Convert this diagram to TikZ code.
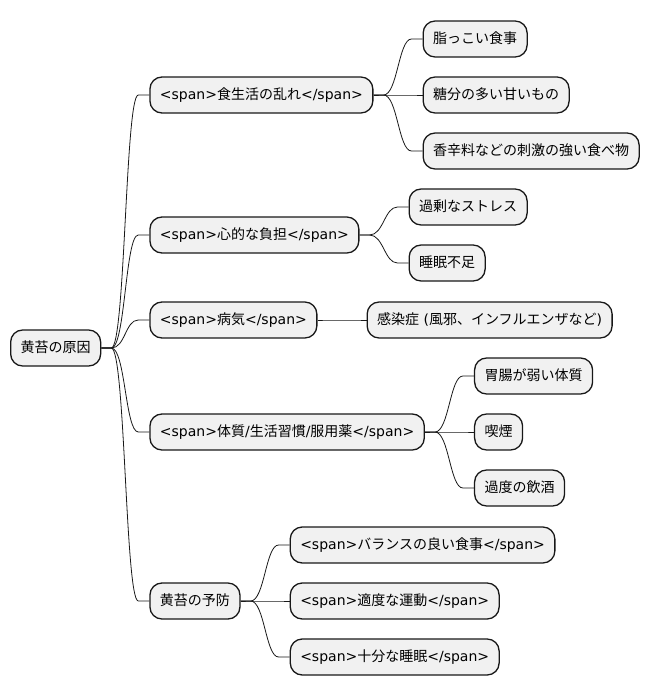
\documentclass[tikz,border=0pt]{standalone}
\usepackage{fontspec}
\setmainfont{DejaVu Sans}
\newfontfamily\cjk{Noto Sans CJK JP}
\usepackage{tikz}
\usetikzlibrary{positioning,calc}
\definecolor{boxfill}{HTML}{F1F1F1}
\definecolor{boxline}{HTML}{181818}
\newcommand{\jp}[1]{{\cjk #1}}
\tikzset{
  topic/.style={draw=boxline,fill=boxfill,line width=1.3pt,rounded corners=12pt,
                minimum height=36pt,inner xsep=10pt,inner ysep=0pt,
                text height=11pt,text depth=3pt,font=\fontsize{14}{16}\selectfont},
  link/.style={boxline,line width=0.8pt,
               to path={-- ++(10pt,0)
                 .. controls ($(\tikztostart)+(24pt,0)$) and ($(\tikztotarget)+(-24pt,0)$)
                 .. ($(\tikztotarget)+(-11pt,0)$) -- (\tikztotarget)}},
}

\begin{document}
\begin{tikzpicture}[node distance=49pt]
  \useasboundingbox (0,0) rectangle (649pt,-696pt);
  %% Root
  \node[topic,anchor=west] (root) at (10pt,-348pt) {\jp{黄苔の原因}};
  %% Level 1
  \node[topic,right=48pt of root,yshift=253pt]  (diet) {<span>\jp{食生活の乱れ}</span>};
  \node[topic,right=48pt of root,yshift=113pt]  (mind) {<span>\jp{心的な負担}</span>};
  \node[topic,right=48pt of root,yshift=28pt]   (ill)  {<span>\jp{病気}</span>};
  \node[topic,right=48pt of root,yshift=-84pt]  (body) {<span>\jp{体質}/\jp{生活習慣}/\jp{服用薬}</span>};
  \node[topic,right=48pt of root,yshift=-253pt] (prev) {\jp{黄苔の予防}};
  %% Level 2
  \node[topic,right=of diet,yshift=56pt]  (fatty)    {\jp{脂っこい食事}};
  \node[topic,right=of diet]              (sugar)    {\jp{糖分の多い甘いもの}};
  \node[topic,right=of diet,yshift=-56pt] (spicy)    {\jp{香辛料などの刺激の強い食べ物}};
  \node[topic,right=of mind,yshift=28pt]  (stress)   {\jp{過剰なストレス}};
  \node[topic,right=of mind,yshift=-28pt] (sleep)    {\jp{睡眠不足}};
  \node[topic,right=of ill]               (infect)   {\jp{感染症} (\jp{風邪、インフルエンザなど})};
  \node[topic,right=of body,yshift=56pt]  (stomach)  {\jp{胃腸が弱い体質}};
  \node[topic,right=of body]              (smoke)    {\jp{喫煙}};
  \node[topic,right=of body,yshift=-56pt] (drink)    {\jp{過度の飲酒}};
  \node[topic,right=of prev,yshift=56pt]  (balance)  {<span>\jp{バランスの良い食事}</span>};
  \node[topic,right=of prev]              (exercise) {<span>\jp{適度な運動}</span>};
  \node[topic,right=of prev,yshift=-56pt] (rest)     {<span>\jp{十分な睡眠}</span>};

  %% Edges
  \foreach \t in {diet,mind,ill,body,prev}
    \draw[link] (root.east) to (\t.west);
  \foreach \t in {fatty,sugar,spicy}
    \draw[link] (diet.east) to (\t.west);
  \foreach \t in {stress,sleep}
    \draw[link] (mind.east) to (\t.west);
  \draw[link] (ill.east) to (infect.west);
  \foreach \t in {stomach,smoke,drink}
    \draw[link] (body.east) to (\t.west);
  \foreach \t in {balance,exercise,rest}
    \draw[link] (prev.east) to (\t.west);
\end{tikzpicture}
\end{document}
